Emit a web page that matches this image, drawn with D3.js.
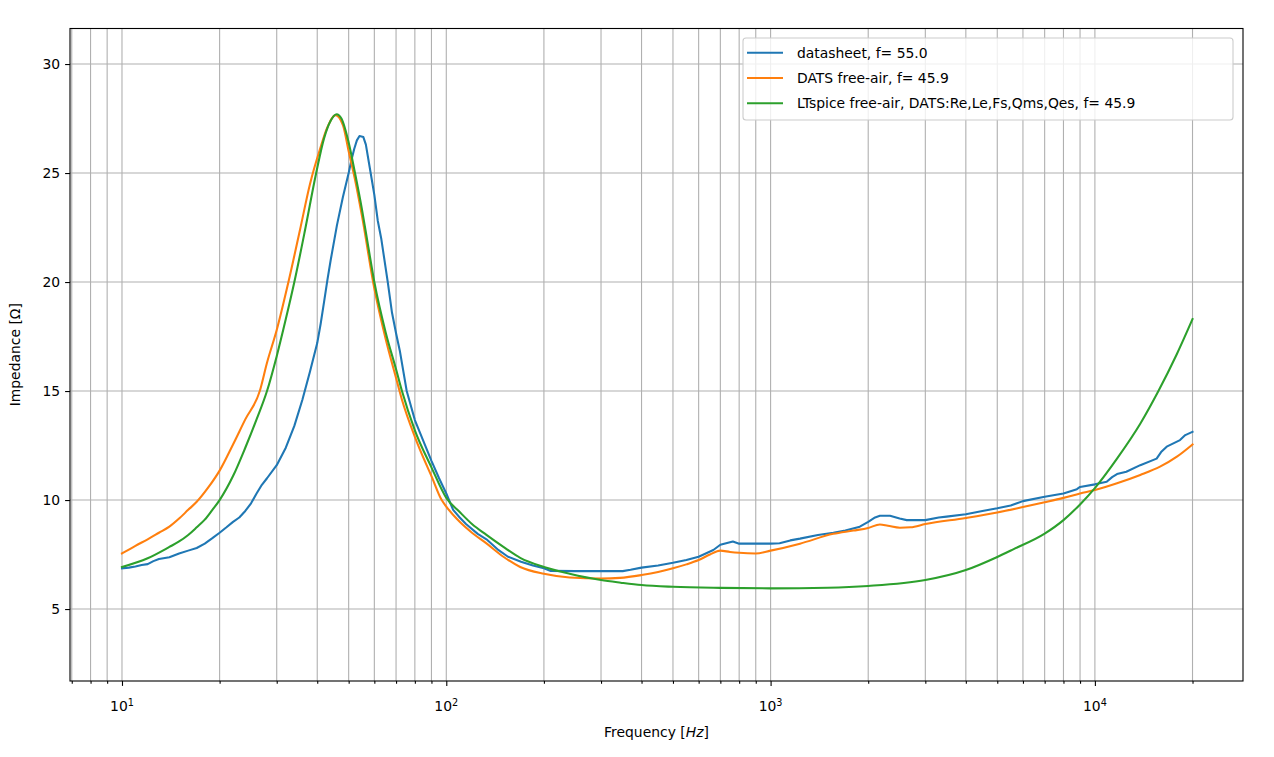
<!DOCTYPE html>
<html><head><meta charset="utf-8">
<script src="https://cdn.jsdelivr.net/npm/d3@7"></script>
<style>body{margin:0;background:#fff;} text{font-family:"DejaVu Sans";fill:#000;}</style>
</head><body><svg id="c" width="1274" height="757"></svg>
<script>
// ---- data ----
const seriesNames = ["datasheet, f= 55.0", "DATS free-air, f= 45.9", "LTspice free-air, DATS:Re,Le,Fs,Qms,Qes, f= 45.9"];
const seriesColors = ["#1f77b4", "#ff7f0e", "#2ca02c"];

const freqDatasheet = [10,10.5,11,11.5,12,12.5,13,14,15,16,17,18,19,20,21,22,23,24,25,26,27,28,30,32,34,36,38,40,41,42,43,44,46,48,50,51,52,53,54,55.5,56.5,58,60,61.5,63,66,68,70,72,75.5,80,85,90,95,100,105,110,115,125,133,145,155,170,185,200,210,250,300,350,370,400,450,500,550,600,666,700,765,800,900,1000,1066,1150,1232,1400,1561,1700,1884,2000,2100,2173,2335,2500,2628,3000,3300,3490,4000,4500,5000,5500,6000,7000,8000,8800,9000,10000,10874,11300,11700,12500,13800,15500,16000,16650,18300,19000,20000];
const zDatasheet = [6.87,6.9,6.95,7.02,7.06,7.2,7.3,7.38,7.55,7.68,7.8,8.0,8.25,8.5,8.75,9.0,9.2,9.5,9.85,10.3,10.7,11.0,11.6,12.4,13.4,14.6,15.9,17.2,18.1,19.1,20.1,21.0,22.6,23.9,25.0,25.6,26.1,26.5,26.7,26.65,26.3,25.3,24.0,22.8,22.0,20.0,18.6,17.65,16.8,15.0,13.67,12.7,11.8,11.0,10.3,9.55,9.2,8.9,8.45,8.2,7.7,7.4,7.17,7.0,6.87,6.75,6.74,6.74,6.74,6.8,6.9,7.0,7.12,7.25,7.4,7.71,7.95,8.1,8.0,8.0,8.0,8.02,8.15,8.23,8.4,8.5,8.6,8.78,9.0,9.2,9.28,9.28,9.15,9.08,9.08,9.2,9.24,9.35,9.5,9.62,9.75,9.95,10.15,10.3,10.5,10.6,10.72,10.84,11.05,11.19,11.3,11.6,11.9,12.2,12.45,12.75,12.98,13.13];

const freqDats = [10,11,12,13,14,15,16,17,18.5,20,22,24,26.6,28,30,32.6,35.4,38,40.8,43,45.5,48,50,52.3,55,60,65,70,73,80,83,90,96.8,100,110,120,133,150,169,200,240,300,343,400,450,500,550,600,650,700,750,800,900,1000,1232,1561,1800,2000,2173,2300,2506,2700,3000,4000,5000,6000,7000,8000,9000,10000,11700,13800,15880,17900,20000];
const zDats = [7.55,7.9,8.2,8.5,8.78,9.15,9.55,9.92,10.6,11.35,12.55,13.7,15.0,16.3,17.8,20.0,22.4,24.5,26.1,27.1,27.65,27.2,26.0,24.7,23.0,19.7,17.4,15.6,14.6,12.9,12.3,11.1,10.0,9.7,9.0,8.5,8.01,7.4,6.93,6.62,6.45,6.40,6.43,6.56,6.7,6.87,7.05,7.25,7.5,7.68,7.62,7.58,7.55,7.68,8.0,8.45,8.6,8.72,8.88,8.82,8.73,8.75,8.9,9.18,9.43,9.68,9.9,10.1,10.3,10.46,10.77,11.15,11.53,11.99,12.55];

const freqLtspice = [10,12,14,15,16,17,18,19,20,22,24,26,28,30,32,34,36.7,39.7,42,44,45.9,47.5,50,52.3,55,57.5,60,65,70,73,80,90,100,110,120,133,150,169,200,240,300,345,400,500,700,1000,1500,2000,3000,4000,5000,5600,7000,8000,9000,10000,11700,13800,15700,17900,20000];
const zLtspice = [6.93,7.33,7.85,8.1,8.4,8.75,9.1,9.55,10.0,11.1,12.4,13.7,15.0,16.6,18.3,20.0,22.4,25.0,26.6,27.4,27.7,27.5,26.4,25.0,23.3,21.6,20.0,17.7,16.0,15.0,13.2,11.5,10.1,9.45,8.9,8.4,7.85,7.35,6.93,6.62,6.33,6.21,6.10,6.02,5.97,5.95,5.98,6.06,6.33,6.79,7.39,7.74,8.46,9.08,9.8,10.55,11.9,13.5,15.0,16.7,18.3];

const yTicks = [5,10,15,20,25,30];
const xMajorTicks = [10,100,1000,10000];
const xTickExponents = ["1","2","3","4"];
const xMinorTicks = [7,8,9,20,30,40,50,60,70,80,90,200,300,400,500,600,700,800,900,2000,3000,4000,5000,6000,7000,8000,9000,20000];

// ---- layout ----
const L = 70, R = 1243, T = 28.5, B = 681;
const svg = d3.select("#c");
const x = d3.scaleLog().domain([Math.pow(10,0.8397), Math.pow(10,4.4567)]).range([L, R]);
const y = d3.scaleLinear().domain([1.70, 31.63]).range([B, T]);

const grid = svg.append("g");
grid.selectAll("line.gx").data(xMajorTicks.concat(xMinorTicks)).enter().append("line")
  .attr("x1", d => x(d)).attr("x2", d => x(d)).attr("y1", T).attr("y2", B)
  .attr("stroke", "#b0b0b0").attr("stroke-width", 1.1);
grid.selectAll("line.gy").data(yTicks).enter().append("line")
  .attr("x1", L).attr("x2", R).attr("y1", d => y(d)).attr("y2", d => y(d))
  .attr("stroke", "#b0b0b0").attr("stroke-width", 1.1);

svg.append("clipPath").attr("id","clip").append("rect").attr("x",L).attr("y",T).attr("width",R-L).attr("height",B-T);

const series = [
  {f: freqDatasheet, z: zDatasheet, curve: d3.curveLinear},
  {f: freqDats, z: zDats, curve: d3.curveMonotoneX},
  {f: freqLtspice, z: zLtspice, curve: d3.curveMonotoneX}
];
const lines = svg.append("g").attr("clip-path","url(#clip)");
series.forEach((s, i) => {
  const pts = s.f.map((f, k) => [f, s.z[k]]);
  lines.append("path").datum(pts)
    .attr("d", d3.line().x(d => x(d[0])).y(d => y(d[1])).curve(s.curve))
    .attr("fill", "none").attr("stroke", seriesColors[i]).attr("stroke-width", 2.08)
    .attr("stroke-linejoin","round").attr("stroke-linecap","square");
});

// axes
const xAxis = svg.append("g").attr("transform", `translate(0,${B})`)
  .call(d3.axisBottom(x).tickValues(xMajorTicks).tickSize(4.9).tickFormat(""));
const xMinor = svg.append("g").attr("transform", `translate(0,${B})`)
  .call(d3.axisBottom(x).tickValues(xMinorTicks).tickSize(2.8).tickFormat(""));
[xAxis, xMinor].forEach(g => { g.select(".domain").remove(); g.selectAll("line").attr("stroke","#000").attr("stroke-width",1.1); });

const yAxis = svg.append("g").attr("transform", `translate(${L},0)`)
  .call(d3.axisLeft(y).tickValues(yTicks).tickSize(4.9).tickPadding(4.9).tickFormat(d3.format("d")));
yAxis.select(".domain").remove();
yAxis.selectAll("line").attr("stroke","#000").attr("stroke-width",1.1);
yAxis.selectAll("text").attr("font-family","DejaVu Sans").attr("font-size","13.9px").attr("fill","#000");

// x tick labels with superscripts
xMajorTicks.forEach((t, i) => {
  const tx = svg.append("text").attr("x", x(t)).attr("y", 711).attr("text-anchor","middle")
    .attr("font-size","13.9px");
  tx.append("tspan").text("10");
  tx.append("tspan").attr("dy", -5.5).attr("font-size","9.7px").text(xTickExponents[i]);
});

// frame
svg.append("rect").attr("x", L).attr("y", T).attr("width", R-L).attr("height", B-T)
  .attr("fill","none").attr("stroke","#000").attr("stroke-width",1.1);

// axis labels
const xl = svg.append("text").attr("x", (L+R)/2).attr("y", 737).attr("text-anchor","middle").attr("font-size","13.9px");
xl.append("tspan").text("Frequency [");
xl.append("tspan").attr("font-style","italic").text("Hz");
xl.append("tspan").text("]");
svg.append("text").attr("transform", `translate(20,${(T+B)/2}) rotate(-90)`).attr("text-anchor","middle")
  .attr("font-size","13.9px").text("Impedance [Ω]");

// legend
const lg = svg.append("g");
lg.append("rect").attr("x", 743).attr("y", 38).attr("width", 490).attr("height", 82).attr("rx", 3)
  .attr("fill","#fff").attr("fill-opacity",0.8).attr("stroke","#cccccc").attr("stroke-width",1.1);
seriesNames.forEach((name, i) => {
  const cy = 52.7 + i * 25.3;
  lg.append("line").attr("x1", 747).attr("x2", 783).attr("y1", cy).attr("y2", cy)
    .attr("stroke", seriesColors[i]).attr("stroke-width", 2.08);
  lg.append("text").attr("x", 797).attr("y", cy + 5).attr("font-size","13.9px").text(name);
});
</script></body></html>
